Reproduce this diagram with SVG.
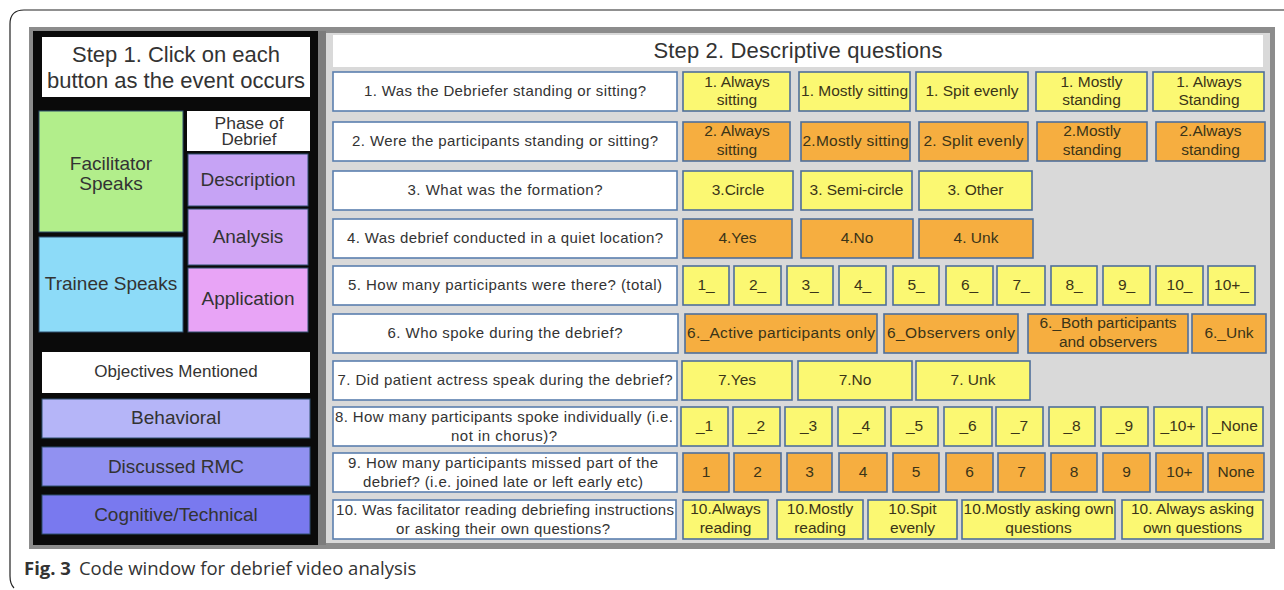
<svg xmlns="http://www.w3.org/2000/svg" width="1284" height="590" viewBox="0 0 1284 590">
<style>
text{font-family:"Liberation Sans",Arial,sans-serif;text-anchor:middle;fill:#333}
.q{fill:#fff;stroke:#5b7fae;stroke-width:1.6}
.y{fill:#fbf872;stroke:#4f6f9a;stroke-width:1.6}
.o{fill:#f6ae40;stroke:#4f6f9a;stroke-width:1.6}
.qt{font-size:15px;fill:#333}
.at{font-size:15.5px;fill:#3a3418}
.lt{font-size:19px}
</style>
<rect width="1284" height="590" fill="#fff"/>
<path d="M1284 10H24Q10 10 10 24V576Q10 584 14 588" fill="none" stroke="#222" stroke-width="1.2"/>
<rect x="29" y="27" width="1246" height="522" fill="#8c8c8c"/>
<rect x="33" y="31" width="285" height="514" fill="#0a0a0a"/>
<rect x="318" y="31" width="8" height="514" fill="#7c7c7c"/>
<rect x="326" y="33" width="944" height="510" fill="#d9d9d9"/>
<g id="step1"><rect x="42" y="37" width="268" height="60" fill="#fff"/><text x="176" y="62" font-size="22">Step 1. Click on each</text><text x="176" y="88" font-size="22">button as the event occurs</text></g>
<g id="facilitator"><rect x="39" y="111" width="144" height="121" fill="#b2ee8b" stroke="#2f4f6f" stroke-width="1"/><text class="lt" x="111" y="170" fill="#2b3b22">Facilitator</text><text class="lt" x="111" y="190" fill="#2b3b22">Speaks</text></g>
<g id="trainee"><rect x="39" y="237" width="144" height="95" fill="#8ddbf8" stroke="#2f4f6f" stroke-width="1"/><text class="lt" x="111" y="290">Trainee Speaks</text></g>
<g id="phase"><rect x="187" y="111" width="123" height="40" fill="#fff"/><text x="249" y="129" font-size="16" textLength="69" lengthAdjust="spacingAndGlyphs">Phase of</text><text x="249" y="145" font-size="16" textLength="55" lengthAdjust="spacingAndGlyphs">Debrief</text></g>
<g id="description"><rect x="188" y="154" width="120" height="52" fill="#c6a3f5" stroke="#2f4f6f" stroke-width="1"/><text class="lt" x="248" y="186">Description</text></g>
<g id="analysis"><rect x="188" y="209" width="120" height="56" fill="#d1a5f5" stroke="#2f4f6f" stroke-width="1"/><text class="lt" x="248" y="243">Analysis</text></g>
<g id="application"><rect x="188" y="268" width="120" height="64" fill="#e8a4f6" stroke="#2f4f6f" stroke-width="1"/><text class="lt" x="248" y="305">Application</text></g>
<g id="objectives"><rect x="42" y="352" width="268" height="41" fill="#fff"/><text x="176" y="377" font-size="17">Objectives Mentioned</text></g>
<g id="behavioral"><rect x="42" y="399" width="268" height="39" fill="#b5b5f8" stroke="#2f4f6f" stroke-width="1"/><text class="lt" x="176" y="424">Behavioral</text></g>
<g id="rmc"><rect x="42" y="447" width="268" height="39" fill="#9191f1" stroke="#2f4f6f" stroke-width="1"/><text class="lt" x="176" y="473">Discussed RMC</text></g>
<g id="cognitive"><rect x="42" y="495" width="268" height="39" fill="#7979ef" stroke="#2f4f6f" stroke-width="1"/><text class="lt" x="176" y="521" fill="#dcdcf4">Cognitive/Technical</text></g>
<g id="step2"><rect x="333" y="35" width="930" height="32" fill="#fff"/><text x="798" y="58" font-size="22" textLength="289">Step 2. Descriptive questions</text></g>
<g id="questions">
<g id="q1"><rect class="q" x="333" y="72" width="344" height="39"/><text class="qt" x="505" y="96" textLength="282">1. Was the Debriefer standing or sitting?</text></g>
<g id="q2"><rect class="q" x="333" y="122" width="344" height="39"/><text class="qt" x="505" y="146" textLength="306">2. Were the participants standing or sitting?</text></g>
<g id="q3"><rect class="q" x="333" y="171" width="344" height="39"/><text class="qt" x="505" y="195" textLength="195">3. What was the formation?</text></g>
<g id="q4"><rect class="q" x="333" y="219" width="344" height="39"/><text class="qt" x="505" y="243" textLength="316">4. Was debrief conducted in a quiet location?</text></g>
<g id="q5"><rect class="q" x="333" y="266" width="344" height="39"/><text class="qt" x="505" y="290" textLength="314">5. How many participants were there? (total)</text></g>
<g id="q6"><rect class="q" x="333" y="314" width="345" height="39"/><text class="qt" x="505" y="338" textLength="235">6. Who spoke during the debrief?</text></g>
<g id="q7"><rect class="q" x="333" y="361" width="344" height="39"/><text class="qt" x="505" y="385" textLength="335">7. Did patient actress speak during the debrief?</text></g>
<g id="q8"><rect class="q" x="333" y="407" width="344" height="39"/><text class="qt" x="504" y="422" textLength="338">8. How many participants spoke individually (i.e.</text><text class="qt" x="504" y="441" textLength="106">not in chorus)?</text></g>
<g id="q9"><rect class="q" x="333" y="453" width="344" height="39"/><text class="qt" x="503" y="468" textLength="310">9. How many participants missed part of the</text><text class="qt" x="503" y="487" textLength="280">debrief? (i.e. joined late or left early etc)</text></g>
<g id="q10"><rect class="q" x="333" y="500" width="343" height="39"/><text class="qt" x="505" y="515" textLength="338">10. Was facilitator reading debriefing instructions</text><text class="qt" x="503" y="534" textLength="214">or asking their own questions?</text></g>
</g>
<g id="answers">
<g id="a1">
<rect class="y" x="683" y="72" width="107" height="39"/><text class="at" x="737" y="87">1. Always</text><text class="at" x="737" y="105">sitting</text>
<rect class="y" x="799" y="72" width="111" height="39"/><text class="at" x="854.5" y="96" textLength="107">1. Mostly sitting</text>
<rect class="y" x="916" y="72" width="112" height="39"/><text class="at" x="972" y="96">1. Spit evenly</text>
<rect class="y" x="1036" y="72" width="111" height="39"/><text class="at" x="1091.5" y="87">1. Mostly</text><text class="at" x="1091.5" y="105">standing</text>
<rect class="y" x="1153" y="72" width="111" height="39"/><text class="at" x="1209" y="87">1. Always</text><text class="at" x="1209" y="105">Standing</text>
</g>
<g id="a2">
<rect class="o" x="683" y="122" width="107" height="39"/><text class="at" x="737" y="136">2. Always</text><text class="at" x="737" y="155">sitting</text>
<rect class="o" x="801" y="122" width="109" height="39"/><text class="at" x="855.5" y="146" textLength="106">2.Mostly sitting</text>
<rect class="o" x="919" y="122" width="109" height="39"/><text class="at" x="973.5" y="146" textLength="100">2. Split evenly</text>
<rect class="o" x="1037" y="122" width="110" height="39"/><text class="at" x="1092" y="136">2.Mostly</text><text class="at" x="1092" y="155">standing</text>
<rect class="o" x="1156" y="122" width="109" height="39"/><text class="at" x="1210.5" y="136">2.Always</text><text class="at" x="1210.5" y="155">standing</text>
</g>
<g id="a3">
<rect class="y" x="683" y="171" width="110" height="39"/><text class="at" x="738" y="195">3.Circle</text>
<rect class="y" x="801" y="171" width="111" height="39"/><text class="at" x="856.5" y="195">3. Semi-circle</text>
<rect class="y" x="919" y="171" width="113" height="39"/><text class="at" x="975.5" y="195">3. Other</text>
</g>
<g id="a4">
<rect class="o" x="683" y="219" width="109" height="39"/><text class="at" x="737.5" y="243">4.Yes</text>
<rect class="o" x="801" y="219" width="112" height="39"/><text class="at" x="857" y="243">4.No</text>
<rect class="o" x="919" y="219" width="114" height="39"/><text class="at" x="976" y="243">4. Unk</text>
</g>
<g id="a5">
<rect class="y" x="683" y="266" width="46" height="39"/><text class="at" x="706" y="290">1_</text>
<rect class="y" x="734" y="266" width="47" height="39"/><text class="at" x="757.5" y="290">2_</text>
<rect class="y" x="787" y="266" width="46" height="39"/><text class="at" x="810" y="290">3_</text>
<rect class="y" x="839" y="266" width="47" height="39"/><text class="at" x="862.5" y="290">4_</text>
<rect class="y" x="893" y="266" width="46" height="39"/><text class="at" x="916" y="290">5_</text>
<rect class="y" x="946" y="266" width="47" height="39"/><text class="at" x="969.5" y="290">6_</text>
<rect class="y" x="997" y="266" width="48" height="39"/><text class="at" x="1021" y="290">7_</text>
<rect class="y" x="1051" y="266" width="46" height="39"/><text class="at" x="1074" y="290">8_</text>
<rect class="y" x="1103" y="266" width="47" height="39"/><text class="at" x="1126.5" y="290">9_</text>
<rect class="y" x="1156" y="266" width="47" height="39"/><text class="at" x="1179.5" y="290">10_</text>
<rect class="y" x="1208" y="266" width="47" height="39"/><text class="at" x="1231.5" y="290">10+_</text>
</g>
<g id="a6">
<rect class="o" x="685" y="314" width="192" height="39"/><text class="at" x="781" y="338" textLength="188">6._Active participants only</text>
<rect class="o" x="884" y="314" width="134" height="39"/><text class="at" x="951" y="338" textLength="128">6_Observers only</text>
<rect class="o" x="1028" y="314" width="160" height="39"/><text class="at" x="1108" y="328">6._Both participants</text><text class="at" x="1108" y="347">and observers</text>
<rect class="o" x="1192" y="314" width="74" height="39"/><text class="at" x="1229" y="338">6._Unk</text>
</g>
<g id="a7">
<rect class="y" x="682" y="361" width="110" height="39"/><text class="at" x="737" y="385">7.Yes</text>
<rect class="y" x="798" y="361" width="114" height="39"/><text class="at" x="855" y="385">7.No</text>
<rect class="y" x="916" y="361" width="114" height="39"/><text class="at" x="973" y="385">7. Unk</text>
</g>
<g id="a8">
<rect class="y" x="681" y="407" width="47" height="39"/><text class="at" x="704.5" y="431">_1</text>
<rect class="y" x="733" y="407" width="47" height="39"/><text class="at" x="756.5" y="431">_2</text>
<rect class="y" x="785" y="407" width="47" height="39"/><text class="at" x="808.5" y="431">_3</text>
<rect class="y" x="838" y="407" width="47" height="39"/><text class="at" x="861.5" y="431">_4</text>
<rect class="y" x="891" y="407" width="47" height="39"/><text class="at" x="914.5" y="431">_5</text>
<rect class="y" x="944" y="407" width="48" height="39"/><text class="at" x="968" y="431">_6</text>
<rect class="y" x="996" y="407" width="47" height="39"/><text class="at" x="1019.5" y="431">_7</text>
<rect class="y" x="1049" y="407" width="46" height="39"/><text class="at" x="1072" y="431">_8</text>
<rect class="y" x="1101" y="407" width="47" height="39"/><text class="at" x="1124.5" y="431">_9</text>
<rect class="y" x="1154" y="407" width="48" height="39"/><text class="at" x="1178" y="431">_10+</text>
<rect class="y" x="1207" y="407" width="56" height="39"/><text class="at" x="1235" y="431">_None</text>
</g>
<g id="a9">
<rect class="o" x="683" y="453" width="46" height="39"/><text class="at" x="706" y="477">1</text>
<rect class="o" x="734" y="453" width="47" height="39"/><text class="at" x="757.5" y="477">2</text>
<rect class="o" x="787" y="453" width="45" height="39"/><text class="at" x="809.5" y="477">3</text>
<rect class="o" x="839" y="453" width="48" height="39"/><text class="at" x="863" y="477">4</text>
<rect class="o" x="893" y="453" width="46" height="39"/><text class="at" x="916" y="477">5</text>
<rect class="o" x="946" y="453" width="47" height="39"/><text class="at" x="969.5" y="477">6</text>
<rect class="o" x="998" y="453" width="47" height="39"/><text class="at" x="1021.5" y="477">7</text>
<rect class="o" x="1051" y="453" width="46" height="39"/><text class="at" x="1074" y="477">8</text>
<rect class="o" x="1103" y="453" width="47" height="39"/><text class="at" x="1126.5" y="477">9</text>
<rect class="o" x="1156" y="453" width="47" height="39"/><text class="at" x="1179.5" y="477">10+</text>
<rect class="o" x="1208" y="453" width="56" height="39"/><text class="at" x="1236" y="477">None</text>
</g>
<g id="a10">
<rect class="y" x="683" y="500" width="85" height="39"/><text class="at" x="725.5" y="514">10.Always</text><text class="at" x="725.5" y="533">reading</text>
<rect class="y" x="777" y="500" width="86" height="39"/><text class="at" x="820" y="514">10.Mostly</text><text class="at" x="820" y="533">reading</text>
<rect class="y" x="868" y="500" width="89" height="39"/><text class="at" x="912.5" y="514">10.Spit</text><text class="at" x="912.5" y="533">evenly</text>
<rect class="y" x="962" y="500" width="153" height="39"/><text class="at" x="1038.5" y="514" textLength="150">10.Mostly asking own</text><text class="at" x="1038.5" y="533">questions</text>
<rect class="y" x="1122" y="500" width="141" height="39"/><text class="at" x="1192.5" y="514">10. Always asking</text><text class="at" x="1192.5" y="533">own questions</text>
</g>
</g>
<g id="connectors"/>
<g id="caption"><text x="24" y="575" font-size="18.5" style="text-anchor:start;font-family:'Open Sans','Noto Sans',sans-serif" fill="#231f20"><tspan font-weight="bold">Fig. 3</tspan><tspan dx="8">Code window for debrief video analysis</tspan></text></g>
</svg>
